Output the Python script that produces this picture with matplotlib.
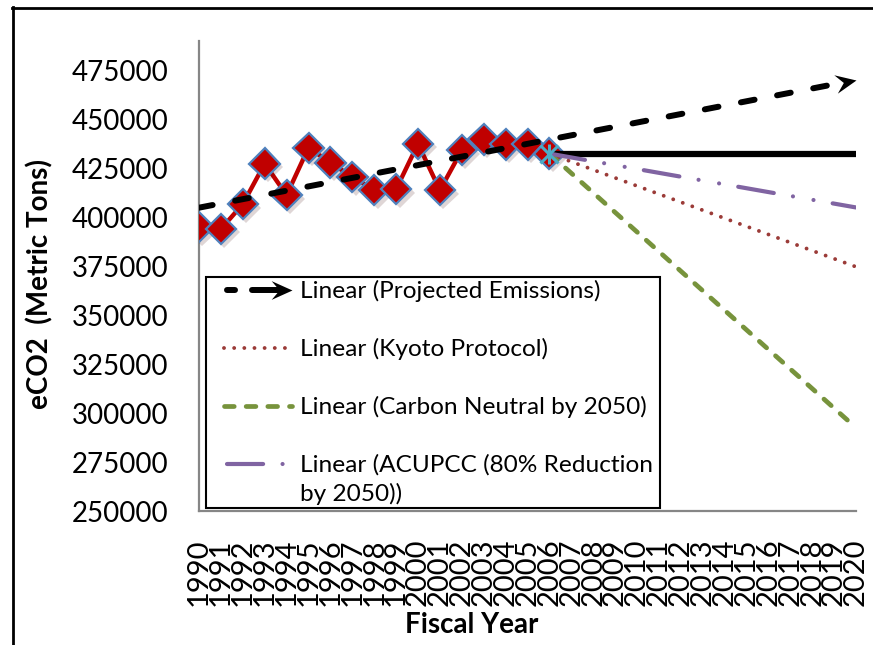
import matplotlib
matplotlib.use("Agg")
import matplotlib.pyplot as plt
import matplotlib.patheffects as pe
import numpy as np
from matplotlib.lines import Line2D
from matplotlib.path import Path
from matplotlib.legend_handler import HandlerBase

plt.rcParams['font.family'] = ['Lato', 'DejaVu Sans']
plt.rcParams['lines.scale_dashes'] = False

# Measured campus emissions, fiscal years 1990-2006 (metric tons eCO2)
years_hist = list(range(1990, 2007))
emissions = [395000, 394000, 406700, 427400, 411300, 435500, 427900, 420600,
             413800, 414300, 437500, 413800, 434200, 439800, 437200, 437200,
             432500]

# Scenario paths from 2006 to 2020
scenario_years = [2006, 2020]
flat_projection = [432500, 432500]
kyoto = [432500, 374700]
carbon_neutral = [432500, 292500]
acupcc = [432500, 405000]

year_labels = [str(y) for y in range(1990, 2021)]
y_ticks = list(range(250000, 475001, 25000))

RED = '#C00000'
BLUE_EDGE = '#4F81BD'
KYOTO_C = '#9B3B38'
GREEN = '#77933C'
PURPLE = '#8064A2'
CYAN = '#4BACC6'
AXIS_GREY = '#868686'

W, H = 873, 645
fig = plt.figure(figsize=(W / 100, H / 100), dpi=100)
ax = fig.add_axes([199 / W, 1 - 511 / H, (856 - 199) / W, (511 - 41) / H])
ax.set_xlim(1990, 2020)
ax.set_ylim(250000, 490000)

# Stealth-style arrowhead used at the end of the projected trend
arrow_verts = [(0, 0), (-1, 0.45), (-0.62, 0), (-1, -0.45), (0, 0)]
arrow_codes = [Path.MOVETO, Path.LINETO, Path.LINETO, Path.LINETO, Path.CLOSEPOLY]


def arrow_marker(angle_deg):
    a = np.radians(angle_deg)
    c, s = np.cos(a), np.sin(a)
    v = [(x * c - y * s, x * s + y * c) for x, y in arrow_verts]
    return Path(v, arrow_codes)


# Historical series
ax.plot(years_hist, emissions, color=RED, lw=3.2, zorder=3, solid_capstyle='round')
ax.plot(years_hist, emissions, ls='none', marker='D', ms=15.5, mfc=RED,
        mec=BLUE_EDGE, mew=1.6, zorder=4,
        path_effects=[pe.SimplePatchShadow(offset=(2.5, -2.5), alpha=0.16),
                      pe.Normal()])

# Linear trend of the historical series, extended to 2020
coef = np.polyfit(years_hist, emissions, 1)
trend_x = np.array([1990, 2020])
trend_y = np.polyval(coef, trend_x)
dash_black = (0, (10, 16.5))
ax.plot([1990, 2019.45], np.polyval(coef, [1990, 2019.45]), color='black', lw=4.3,
        ls=dash_black, dash_capstyle='round', zorder=6)
p0 = ax.transData.transform((2019, np.polyval(coef, 2019)))
p1 = ax.transData.transform((2020, trend_y[1]))
ang = np.degrees(np.arctan2(p1[1] - p0[1], p1[0] - p0[0]))
ax.plot([2020], [trend_y[1]], ls='none', marker=arrow_marker(ang), ms=32,
        color='black', mec='none', zorder=6, clip_on=False)

# Scenario lines
ax.plot(scenario_years, flat_projection, color='black', lw=4.5, zorder=5,
        solid_capstyle='butt')
kyoto_style = dict(color=KYOTO_C, lw=2.8, ls=(0, (0.01, 7.3)), dash_capstyle='round')
green_style = dict(color=GREEN, lw=3.4, ls=(0, (7, 8.6)), dash_capstyle='round')
purple_style = dict(color=PURPLE, lw=3.0, ls=(0, (26, 14, 0.01, 15, 0.01, 14)),
                    dash_capstyle='round')
ax.plot(scenario_years, kyoto, zorder=5, **kyoto_style)
ax.plot(scenario_years, carbon_neutral, zorder=5, **green_style)
ax.plot(scenario_years, acupcc, zorder=5, **purple_style)

# Star marker at the 2006 starting point of the scenarios
ax.plot([2006], [flat_projection[0]], ls='none', marker='x', ms=13, mew=2.2,
        color=CYAN, zorder=7)
ax.plot([2006], [flat_projection[0]], ls='none', marker='|', ms=15, mew=2.2,
        color=CYAN, zorder=7)

# Axes styling
for side in ('top', 'right'):
    ax.spines[side].set_visible(False)
for side in ('left', 'bottom'):
    ax.spines[side].set_color(AXIS_GREY)
    ax.spines[side].set_linewidth(1.6)
ax.set_yticks(y_ticks)
ax.set_yticklabels([str(v) for v in y_ticks], fontsize=20)
ax.set_xticks(range(1990, 2021))
ax.set_xticklabels(year_labels, rotation=90, fontsize=21)
ax.tick_params(axis='y', length=0, pad=22)
ax.tick_params(axis='x', length=0, pad=20)

fig.text(40 / W, 1 - 284 / H, 'eCO2  (Metric Tons)', rotation=90, fontsize=20,
         fontweight='bold', ha='center', va='center')
fig.text(472 / W, 1 - 625 / H, 'Fiscal Year', fontsize=20, fontweight='bold',
         ha='center', va='center')


class DashArrowHandler(HandlerBase):
    def create_artists(self, legend, orig_handle, xdescent, ydescent, width,
                       height, fontsize, trans):
        y = height / 2 - ydescent
        x0, x1 = -xdescent, width - xdescent
        dash1 = Line2D([x0 + 2, x0 + 8], [y, y], color='black', lw=4.3,
                       solid_capstyle='round')
        dash2 = Line2D([x0 + 20, x1 - 8], [y, y], color='black', lw=4.3,
                       solid_capstyle='round')
        head = Line2D([x1], [y], ls='none', marker=arrow_marker(0), ms=30,
                      color='black', mec='none')
        for art in (dash1, dash2, head):
            art.set_transform(trans)
        return [dash1, dash2, head]


class RaisedLineHandler(HandlerBase):
    """Line handle aligned with the first line of a two-line label."""

    def __init__(self, shift, **kw):
        super().__init__(**kw)
        self.shift = shift

    def create_artists(self, legend, orig_handle, xdescent, ydescent, width,
                       height, fontsize, trans):
        y = height / 2 - ydescent + self.shift
        line = Line2D([-xdescent + 2, width - xdescent - 2], [y, y])
        line.update_from(orig_handle)
        line.set_transform(trans)
        return [line]


proj_handle = Line2D([], [], color='black')
acupcc_handle = Line2D([], [], **purple_style)
handles = [proj_handle,
           Line2D([], [], **kyoto_style),
           Line2D([], [], **green_style),
           acupcc_handle]
labels = ['Linear (Projected Emissions)',
          'Linear (Kyoto Protocol)',
          'Linear (Carbon Neutral by 2050)',
          'Linear (ACUPCC (80% Reduction\nby 2050))']
leg = fig.legend(handles, labels, loc='upper left',
                 bbox_to_anchor=(224 / W, 1 - 280 / H),
                 bbox_transform=fig.transFigure, frameon=False, fontsize=17.6,
                 borderpad=0, borderaxespad=0, handlelength=2.8,
                 handletextpad=0.3, labelspacing=1.47,
                 handler_map={proj_handle: DashArrowHandler(),
                              acupcc_handle: RaisedLineHandler(11)})
leg.get_texts()[3].set_linespacing(1.43)
leg.set_zorder(10)

# Legend box
fig.add_artist(plt.Rectangle((206 / W, 1 - 508 / H), (660 - 206) / W, (508 - 277) / H,
                             transform=fig.transFigure, facecolor='white',
                             edgecolor='black', lw=1.5, zorder=9))

# Outer chart border
fig.add_artist(Line2D([12.5 / W, 12.5 / W], [0, 1 - 7 / H], color='black', lw=2,
                      transform=fig.transFigure))
fig.add_artist(Line2D([12 / W, 1], [1 - 7.5 / H, 1 - 7.5 / H], color='black', lw=2,
                      transform=fig.transFigure))

fig.savefig('out.png', dpi=100)
